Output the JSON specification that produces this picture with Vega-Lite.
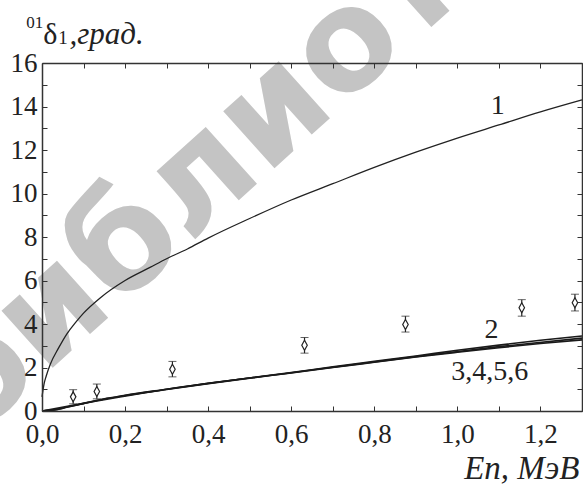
{
  "$schema": "https://vega.github.io/schema/vega-lite/v6.json",
  "width": 540,
  "height": 348,
  "autosize": "none",
  "padding": {"left": 42, "top": 63, "right": 1, "bottom": 73},
  "background": "white",
  "config": {"view": {"stroke": null}},
  "datasets": {
    "curves": [
      {"curve": "1", "x": 0, "y": 0.65},
      {"curve": "1", "x": 0.005, "y": 1.25},
      {"curve": "1", "x": 0.01, "y": 1.6},
      {"curve": "1", "x": 0.02, "y": 2.15},
      {"curve": "1", "x": 0.04, "y": 2.9},
      {"curve": "1", "x": 0.06, "y": 3.55},
      {"curve": "1", "x": 0.08, "y": 4.05},
      {"curve": "1", "x": 0.1, "y": 4.5},
      {"curve": "1", "x": 0.14, "y": 5.2},
      {"curve": "1", "x": 0.2, "y": 6.0},
      {"curve": "1", "x": 0.26, "y": 6.6},
      {"curve": "1", "x": 0.3, "y": 7.0},
      {"curve": "1", "x": 0.35, "y": 7.45},
      {"curve": "1", "x": 0.4, "y": 7.95},
      {"curve": "1", "x": 0.5, "y": 8.85},
      {"curve": "1", "x": 0.6, "y": 9.7},
      {"curve": "1", "x": 0.7, "y": 10.45},
      {"curve": "1", "x": 0.8, "y": 11.2},
      {"curve": "1", "x": 0.9, "y": 11.9},
      {"curve": "1", "x": 1.0, "y": 12.55},
      {"curve": "1", "x": 1.1, "y": 13.15},
      {"curve": "1", "x": 1.2, "y": 13.75},
      {"curve": "1", "x": 1.3, "y": 14.3},
      {"curve": "2", "x": 0, "y": 0},
      {"curve": "2", "x": 0.03, "y": 0.05},
      {"curve": "2", "x": 0.06, "y": 0.18},
      {"curve": "2", "x": 0.1, "y": 0.35},
      {"curve": "2", "x": 0.13, "y": 0.48},
      {"curve": "2", "x": 0.2, "y": 0.72},
      {"curve": "2", "x": 0.3, "y": 1.0},
      {"curve": "2", "x": 0.4, "y": 1.27},
      {"curve": "2", "x": 0.5, "y": 1.52},
      {"curve": "2", "x": 0.6, "y": 1.77},
      {"curve": "2", "x": 0.7, "y": 2.03},
      {"curve": "2", "x": 0.8, "y": 2.28},
      {"curve": "2", "x": 0.9, "y": 2.53},
      {"curve": "2", "x": 1.0, "y": 2.79},
      {"curve": "2", "x": 1.1, "y": 3.03},
      {"curve": "2", "x": 1.2, "y": 3.25},
      {"curve": "2", "x": 1.3, "y": 3.45},
      {"curve": "3", "x": 0, "y": 0},
      {"curve": "3", "x": 0.03, "y": 0.05},
      {"curve": "3", "x": 0.06, "y": 0.17},
      {"curve": "3", "x": 0.1, "y": 0.34},
      {"curve": "3", "x": 0.13, "y": 0.47},
      {"curve": "3", "x": 0.2, "y": 0.71},
      {"curve": "3", "x": 0.3, "y": 0.99},
      {"curve": "3", "x": 0.4, "y": 1.26},
      {"curve": "3", "x": 0.5, "y": 1.51},
      {"curve": "3", "x": 0.6, "y": 1.75},
      {"curve": "3", "x": 0.7, "y": 2.0},
      {"curve": "3", "x": 0.8, "y": 2.24},
      {"curve": "3", "x": 0.9, "y": 2.48},
      {"curve": "3", "x": 1.0, "y": 2.7},
      {"curve": "3", "x": 1.1, "y": 2.91},
      {"curve": "3", "x": 1.2, "y": 3.1},
      {"curve": "3", "x": 1.3, "y": 3.27},
      {"curve": "4", "x": 0, "y": 0},
      {"curve": "4", "x": 0.1, "y": 0.35},
      {"curve": "4", "x": 0.3, "y": 1.0},
      {"curve": "4", "x": 0.6, "y": 1.76},
      {"curve": "4", "x": 0.9, "y": 2.5},
      {"curve": "4", "x": 1.1, "y": 2.96},
      {"curve": "4", "x": 1.3, "y": 3.35}
    ],
    "points": [
      {"x": 0.075, "y": 0.65, "lo": 0.33, "hi": 0.98},
      {"x": 0.132, "y": 0.9, "lo": 0.56, "hi": 1.24},
      {"x": 0.314, "y": 1.92, "lo": 1.57, "hi": 2.28},
      {"x": 0.632, "y": 3.02, "lo": 2.66, "hi": 3.38},
      {"x": 0.875, "y": 3.98, "lo": 3.63, "hi": 4.36},
      {"x": 1.155, "y": 4.75, "lo": 4.36, "hi": 5.12},
      {"x": 1.283, "y": 4.98, "lo": 4.6, "hi": 5.37}
    ],
    "labels": [
      {"x": 1.097, "y": 13.64, "t": "1"},
      {"x": 1.082, "y": 3.35, "t": "2"},
      {"x": 1.078, "y": 1.43, "t": "3,4,5,6"}
    ]
  },
  "resolve": {"axis": {"x": "independent", "y": "independent"}},
  "layer": [
    {
      "data": {"values": [{"x": -0.17, "y": -1.38, "t": "библиотека"}]},
      "mark": {"type": "text", "font": "DejaVu Sans", "fontWeight": "bold", "fontSize": 140, "color": "#c4c4c4", "angle": -42, "align": "left", "baseline": "alphabetic"},
      "encoding": {
        "x": {"field": "x", "type": "quantitative", "scale": {"domain": [0, 1.3], "nice": false, "zero": false}, "axis": null},
        "y": {"field": "y", "type": "quantitative", "scale": {"domain": [0, 16], "nice": false, "zero": false}, "axis": null},
        "text": {"field": "t"}
      }
    },
    {
      "data": {"name": "curves"},
      "transform": [{"filter": "datum.curve == '1'"}],
      "mark": {"type": "line", "color": "#222", "strokeWidth": 1.3, "interpolate": "monotone"},
      "encoding": {
        "x": {
          "field": "x", "type": "quantitative",
          "scale": {"domain": [0, 1.3], "nice": false, "zero": false},
          "axis": {
            "orient": "bottom", "zindex": 1,
            "values": [0, 0.1, 0.2, 0.3, 0.4, 0.5, 0.6, 0.7, 0.8, 0.9, 1.0, 1.1, 1.2, 1.3],
            "labelExpr": "round(datum.value * 10) % 2 == 0 ? replace(format(datum.value, '.1f'), '.', ',') : ''",
            "grid": false, "tickSize": -5, "tickColor": "#333", "tickWidth": 1,
            "domainColor": "#333", "domainWidth": 1.5,
            "labelFont": "Liberation Serif", "labelFontSize": 27, "labelColor": "#222",
            "labelPadding": 15, "labelOverlap": false, "labelFlush": false, "labelBound": false,
            "title": "En, МэВ", "titleFont": "Liberation Serif", "titleFontStyle": "italic",
            "titleFontWeight": "normal", "titleFontSize": 33, "titleColor": "#222",
            "titleAlign": "right", "titleAnchor": "end", "titleBaseline": "alphabetic",
            "titleX": 537, "titleY": 67
          }
        },
        "y": {
          "field": "y", "type": "quantitative",
          "scale": {"domain": [0, 16], "nice": false, "zero": false},
          "axis": {
            "orient": "left", "zindex": 1,
            "values": [0, 1, 2, 3, 4, 5, 6, 7, 8, 9, 10, 11, 12, 13, 14, 15, 16],
            "labelExpr": "datum.value % 2 == 0 ? datum.label : ''",
            "grid": false, "tickSize": -5, "tickColor": "#333", "tickWidth": 1,
            "domainColor": "#333", "domainWidth": 1.5,
            "labelFont": "Liberation Serif", "labelFontSize": 27, "labelColor": "#222",
            "labelPadding": 10, "labelOverlap": false, "labelBound": false, "labelFlush": false,
            "title": null
          }
        }
      }
    },
    {
      "data": {"name": "curves"},
      "transform": [{"filter": "datum.curve != '1'"}],
      "mark": {"type": "line", "color": "#1a1a1a", "strokeWidth": 1.6, "interpolate": "monotone"},
      "encoding": {
        "x": {"field": "x", "type": "quantitative", "scale": {"domain": [0, 1.3], "nice": false, "zero": false}, "axis": null},
        "y": {"field": "y", "type": "quantitative", "scale": {"domain": [0, 16], "nice": false, "zero": false}, "axis": null},
        "detail": {"field": "curve", "type": "nominal"}
      }
    },
    {
      "data": {"name": "points"},
      "mark": {"type": "errorbar", "ticks": {"size": 8, "color": "#222", "strokeWidth": 1.5}, "rule": {"color": "#222", "strokeWidth": 1.2}},
      "encoding": {
        "x": {"field": "x", "type": "quantitative", "scale": {"domain": [0, 1.3], "nice": false, "zero": false}, "axis": null},
        "y": {"field": "lo", "type": "quantitative", "scale": {"domain": [0, 16], "nice": false, "zero": false}, "axis": null},
        "y2": {"field": "hi"}
      }
    },
    {
      "data": {"name": "points"},
      "mark": {"type": "point", "shape": "M0,-1L0.55,0L0,1L-0.55,0Z", "size": 100, "filled": true, "fill": "white", "stroke": "#222", "strokeWidth": 1.2, "opacity": 1},
      "encoding": {
        "x": {
          "field": "x", "type": "quantitative",
          "scale": {"domain": [0, 1.3], "nice": false, "zero": false},
          "axis": {
            "orient": "top", "zindex": 1, "labels": false, "title": null, "grid": false,
            "values": [0, 0.1, 0.2, 0.3, 0.4, 0.5, 0.6, 0.7, 0.8, 0.9, 1.0, 1.1, 1.2, 1.3],
            "tickSize": -5, "tickColor": "#333", "tickWidth": 1,
            "domainColor": "#333", "domainWidth": 1.5
          }
        },
        "y": {
          "field": "y", "type": "quantitative",
          "scale": {"domain": [0, 16], "nice": false, "zero": false},
          "axis": {
            "orient": "right", "zindex": 1, "labels": false, "title": null, "grid": false,
            "values": [0, 1, 2, 3, 4, 5, 6, 7, 8, 9, 10, 11, 12, 13, 14, 15, 16],
            "tickSize": -5, "tickColor": "#333", "tickWidth": 1,
            "domainColor": "#333", "domainWidth": 1.5
          }
        }
      }
    },
    {
      "data": {"name": "labels"},
      "mark": {"type": "text", "font": "Liberation Serif", "fontSize": 28, "color": "#222", "align": "center", "baseline": "alphabetic"},
      "encoding": {
        "x": {"field": "x", "type": "quantitative", "scale": {"domain": [0, 1.3], "nice": false, "zero": false}, "axis": null},
        "y": {"field": "y", "type": "quantitative", "scale": {"domain": [0, 16], "nice": false, "zero": false}, "axis": null},
        "text": {"field": "t"}
      }
    },
    {
      "data": {"values": [{"x": -0.0377, "y": 17.63, "t": "01"}]},
      "mark": {"type": "text", "font": "Liberation Serif", "fontSize": 17, "color": "#222", "align": "left", "baseline": "alphabetic"},
      "encoding": {
        "x": {"field": "x", "type": "quantitative", "scale": {"domain": [0, 1.3], "nice": false, "zero": false}, "axis": null},
        "y": {"field": "y", "type": "quantitative", "scale": {"domain": [0, 16], "nice": false, "zero": false}, "axis": null},
        "text": {"field": "t"}
      }
    },
    {
      "data": {"values": [{"x": 0.003, "y": 16.87, "t": "δ"}]},
      "mark": {"type": "text", "font": "Liberation Serif", "fontSize": 30, "color": "#222", "align": "left", "baseline": "alphabetic"},
      "encoding": {
        "x": {"field": "x", "type": "quantitative", "scale": {"domain": [0, 1.3], "nice": false, "zero": false}, "axis": null},
        "y": {"field": "y", "type": "quantitative", "scale": {"domain": [0, 16], "nice": false, "zero": false}, "axis": null},
        "text": {"field": "t"}
      }
    },
    {
      "data": {"values": [{"x": 0.039, "y": 16.87, "t": "1"}]},
      "mark": {"type": "text", "font": "Liberation Serif", "fontSize": 19, "color": "#222", "align": "left", "baseline": "alphabetic"},
      "encoding": {
        "x": {"field": "x", "type": "quantitative", "scale": {"domain": [0, 1.3], "nice": false, "zero": false}, "axis": null},
        "y": {"field": "y", "type": "quantitative", "scale": {"domain": [0, 16], "nice": false, "zero": false}, "axis": null},
        "text": {"field": "t"}
      }
    },
    {
      "data": {"values": [{"x": 0.066, "y": 16.87, "t": ",град."}]},
      "mark": {"type": "text", "font": "Liberation Serif", "fontStyle": "italic", "fontSize": 31, "color": "#222", "align": "left", "baseline": "alphabetic"},
      "encoding": {
        "x": {"field": "x", "type": "quantitative", "scale": {"domain": [0, 1.3], "nice": false, "zero": false}, "axis": null},
        "y": {"field": "y", "type": "quantitative", "scale": {"domain": [0, 16], "nice": false, "zero": false}, "axis": null},
        "text": {"field": "t"}
      }
    }
  ]
}
